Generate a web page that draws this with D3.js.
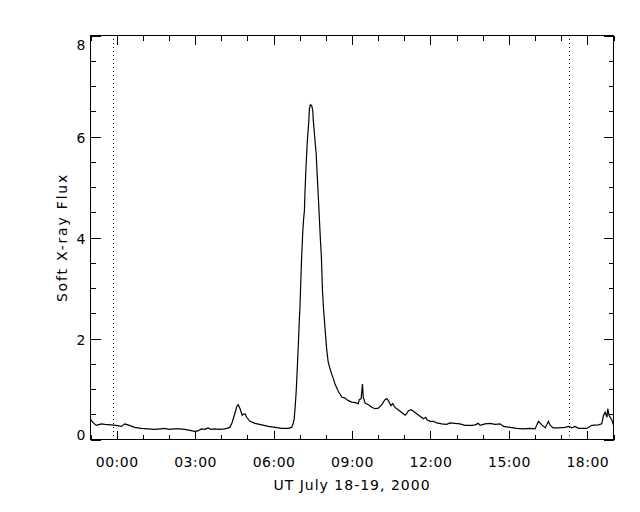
<!DOCTYPE html>
<html>
<head>
<meta charset="utf-8">
<script src="https://cdn.jsdelivr.net/npm/d3@7/dist/d3.min.js"></script>
<style>
  html, body { margin: 0; padding: 0; background: #fff; }
  svg { display: block; }
  text { font-family: "DejaVu Sans", sans-serif; fill: #000; }
</style>
</head>
<body>
<svg id="chart" width="640" height="512"></svg>
<script>
// Time in hours from 00:00 UT July 19, 2000 (negative = July 18)
const hoursUT = [
  -1.00, -0.97, -0.91, -0.78, -0.65, -0.59, -0.45, -0.21, -0.03, 0.18,
  0.31, 0.43, 0.69, 0.93, 1.20, 1.45, 1.66, 1.84, 2.00, 2.22,
  2.42, 2.60, 2.80, 2.98, 3.11, 3.24, 3.38, 3.49, 3.61, 3.75,
  3.91, 4.13, 4.21, 4.33, 4.40, 4.46, 4.55, 4.60, 4.65, 4.72,
  4.80, 4.85, 4.91, 4.97, 5.10, 5.29, 5.55, 5.80, 6.06, 6.31,
  6.56, 6.69, 6.74, 6.79, 6.83, 6.86, 6.89, 6.92, 6.95, 6.98,
  7.01, 7.04, 7.08, 7.12, 7.15, 7.18, 7.20, 7.24, 7.29, 7.35,
  7.37, 7.41, 7.46, 7.50, 7.52, 7.59, 7.63, 7.67, 7.71, 7.75,
  7.79, 7.83, 7.85, 7.87, 7.91, 7.97, 8.03, 8.09, 8.16, 8.22,
  8.29, 8.35, 8.48, 8.61, 8.73, 8.86, 8.99, 9.12, 9.24, 9.28,
  9.35, 9.40, 9.43, 9.50, 9.63, 9.76, 9.88, 10.01, 10.14, 10.26,
  10.33, 10.39, 10.49, 10.56, 10.62, 10.71, 10.84, 10.96, 11.03, 11.09,
  11.16, 11.26, 11.35, 11.48, 11.60, 11.73, 11.82, 11.87, 11.99, 12.11,
  12.24, 12.43, 12.62, 12.75, 12.94, 13.13, 13.32, 13.58, 13.71, 13.83,
  13.90, 14.09, 14.28, 14.47, 14.66, 14.79, 15.05, 15.30, 15.55, 15.81,
  16.00, 16.13, 16.26, 16.39, 16.51, 16.58, 16.70, 16.89, 17.15, 17.28,
  17.41, 17.53, 17.66, 17.98, 18.17, 18.42, 18.55, 18.62, 18.68, 18.75,
  18.78, 18.83, 18.94, 19.00
];
const flux = [
  0.41, 0.38, 0.34, 0.28, 0.30, 0.31, 0.30, 0.29, 0.28, 0.26,
  0.31, 0.29, 0.24, 0.22, 0.21, 0.20, 0.21, 0.22, 0.20, 0.21,
  0.21, 0.20, 0.18, 0.16, 0.17, 0.21, 0.20, 0.23, 0.20, 0.21,
  0.20, 0.21, 0.22, 0.24, 0.31, 0.41, 0.57, 0.66, 0.69, 0.61,
  0.48, 0.50, 0.51, 0.44, 0.36, 0.32, 0.29, 0.26, 0.24, 0.22,
  0.22, 0.24, 0.30, 0.41, 0.67, 0.90, 1.20, 1.56, 1.90, 2.30,
  2.62, 3.11, 3.68, 4.14, 4.37, 4.53, 4.87, 5.39, 5.89, 6.32,
  6.55, 6.63, 6.61, 6.51, 6.32, 5.89, 5.66, 5.23, 4.83, 4.40,
  3.97, 3.61, 3.28, 2.95, 2.60, 2.19, 1.80, 1.53, 1.40, 1.30,
  1.20, 1.10, 0.95, 0.84, 0.82, 0.77, 0.74, 0.73, 0.71, 0.79,
  0.81, 1.10, 0.84, 0.72, 0.69, 0.64, 0.61, 0.62, 0.69, 0.79,
  0.81, 0.77, 0.67, 0.71, 0.65, 0.61, 0.56, 0.51, 0.48, 0.51,
  0.57, 0.59, 0.56, 0.51, 0.46, 0.41, 0.44, 0.39, 0.36, 0.36,
  0.33, 0.31, 0.30, 0.33, 0.32, 0.31, 0.28, 0.28, 0.29, 0.32,
  0.28, 0.31, 0.32, 0.30, 0.31, 0.26, 0.24, 0.22, 0.21, 0.22,
  0.21, 0.36, 0.29, 0.23, 0.36, 0.28, 0.23, 0.23, 0.24, 0.26,
  0.23, 0.26, 0.22, 0.22, 0.28, 0.29, 0.31, 0.48, 0.54, 0.44,
  0.61, 0.48, 0.38, 0.28
];
const markerHours = [-0.15, 17.28];           // dotted vertical lines
const xMajorHours = [0, 3, 6, 9, 12, 15, 18];
const xTickLabels = ["00:00", "03:00", "06:00", "09:00", "12:00", "15:00", "18:00"];
const xMinorHours = d3.range(-1, 20, 1);
const yMajor = [0, 2, 4, 6, 8];
const yMinor = d3.range(0, 8.01, 0.5);
const xTitle = "UT July 18-19, 2000";
const yTitle = "Soft X-ray Flux";

const svg = d3.select("#chart");
const L = 90.5, R = 613.5, T = 35.5, B = 439.5;
const x = d3.scaleLinear().domain([-1, 19]).range([L, R]);
const y = d3.scaleLinear().domain([0, 8]).range([B, T]);

const axisStyle = g => {
  g.select(".domain").remove();
  g.selectAll("line").attr("stroke", "#000").attr("stroke-width", 1)
    .attr("shape-rendering", "crispEdges");
  g.selectAll("text").style("font-size", "14px").style("font-family", "DejaVu Sans, sans-serif")
    .attr("fill", "#000");
};

// plot box
svg.append("rect").attr("x", L).attr("y", T).attr("width", R - L).attr("height", B - T)
  .attr("fill", "none").attr("stroke", "#000").attr("stroke-width", 1)
  .attr("shape-rendering", "crispEdges");

const minorX = xMinorHours.filter(h => !xMajorHours.includes(h));
const minorY = yMinor.filter(v => !yMajor.includes(v));

// bottom axis (major with labels, minor)
svg.append("g").attr("transform", `translate(0,${B})`)
  .call(d3.axisBottom(x).tickValues(xMajorHours).tickSize(-9).tickPadding(18)
    .tickFormat((d, i) => xTickLabels[i]))
  .call(axisStyle)
  .call(g => g.selectAll("text").attr("letter-spacing", "0.5px"));
svg.append("g").attr("transform", `translate(0,${B})`)
  .call(d3.axisBottom(x).tickValues(minorX).tickSize(-5).tickFormat(""))
  .call(axisStyle);
// top axis ticks
svg.append("g").attr("transform", `translate(0,${T})`)
  .call(d3.axisTop(x).tickValues(xMajorHours).tickSize(-9).tickFormat(""))
  .call(axisStyle);
svg.append("g").attr("transform", `translate(0,${T})`)
  .call(d3.axisTop(x).tickValues(minorX).tickSize(-5).tickFormat(""))
  .call(axisStyle);

// left axis
svg.append("g").attr("transform", `translate(${L},0)`)
  .call(d3.axisLeft(y).tickValues(yMajor).tickSize(-10).tickPadding(5).tickFormat(d3.format("d")))
  .call(axisStyle)
  .call(g => g.selectAll("text").attr("dy", d => d === 0 ? "0em" : (d === 8 ? "0.98em" : "0.46em")));
svg.append("g").attr("transform", `translate(${L},0)`)
  .call(d3.axisLeft(y).tickValues(minorY).tickSize(-5).tickFormat(""))
  .call(axisStyle);
// right axis ticks
svg.append("g").attr("transform", `translate(${R},0)`)
  .call(d3.axisRight(y).tickValues(yMajor).tickSize(-10).tickFormat(""))
  .call(axisStyle);
svg.append("g").attr("transform", `translate(${R},0)`)
  .call(d3.axisRight(y).tickValues(minorY).tickSize(-5).tickFormat(""))
  .call(axisStyle);

// dotted marker lines
svg.append("g").selectAll("line").data(markerHours).join("line")
  .attr("x1", d => Math.round(x(d)) + 0.5).attr("x2", d => Math.round(x(d)) + 0.5)
  .attr("y1", T + 3).attr("y2", B)
  .attr("stroke", "#000").attr("stroke-width", 1).attr("stroke-dasharray", "1,3")
  .attr("shape-rendering", "crispEdges");

// data line
const pts = hoursUT.map((h, i) => [h, flux[i]]);
svg.append("path").datum(pts)
  .attr("fill", "none").attr("stroke", "#000").attr("stroke-width", 1.2)
  .attr("stroke-linejoin", "miter")
  .attr("d", d3.line().x(d => x(d[0])).y(d => y(d[1])));

// titles
svg.append("text").attr("x", (L + R) / 2).attr("y", 490).attr("text-anchor", "middle")
  .attr("fill", "#000").style("font-size", "14px").attr("letter-spacing", "1px").text(xTitle);
svg.append("text").attr("transform", `translate(67,${(T + B) / 2}) rotate(-90)`)
  .attr("fill", "#000").attr("text-anchor", "middle").style("font-size", "14px")
  .attr("letter-spacing", "1.8px").text(yTitle);
</script>
</body>
</html>
